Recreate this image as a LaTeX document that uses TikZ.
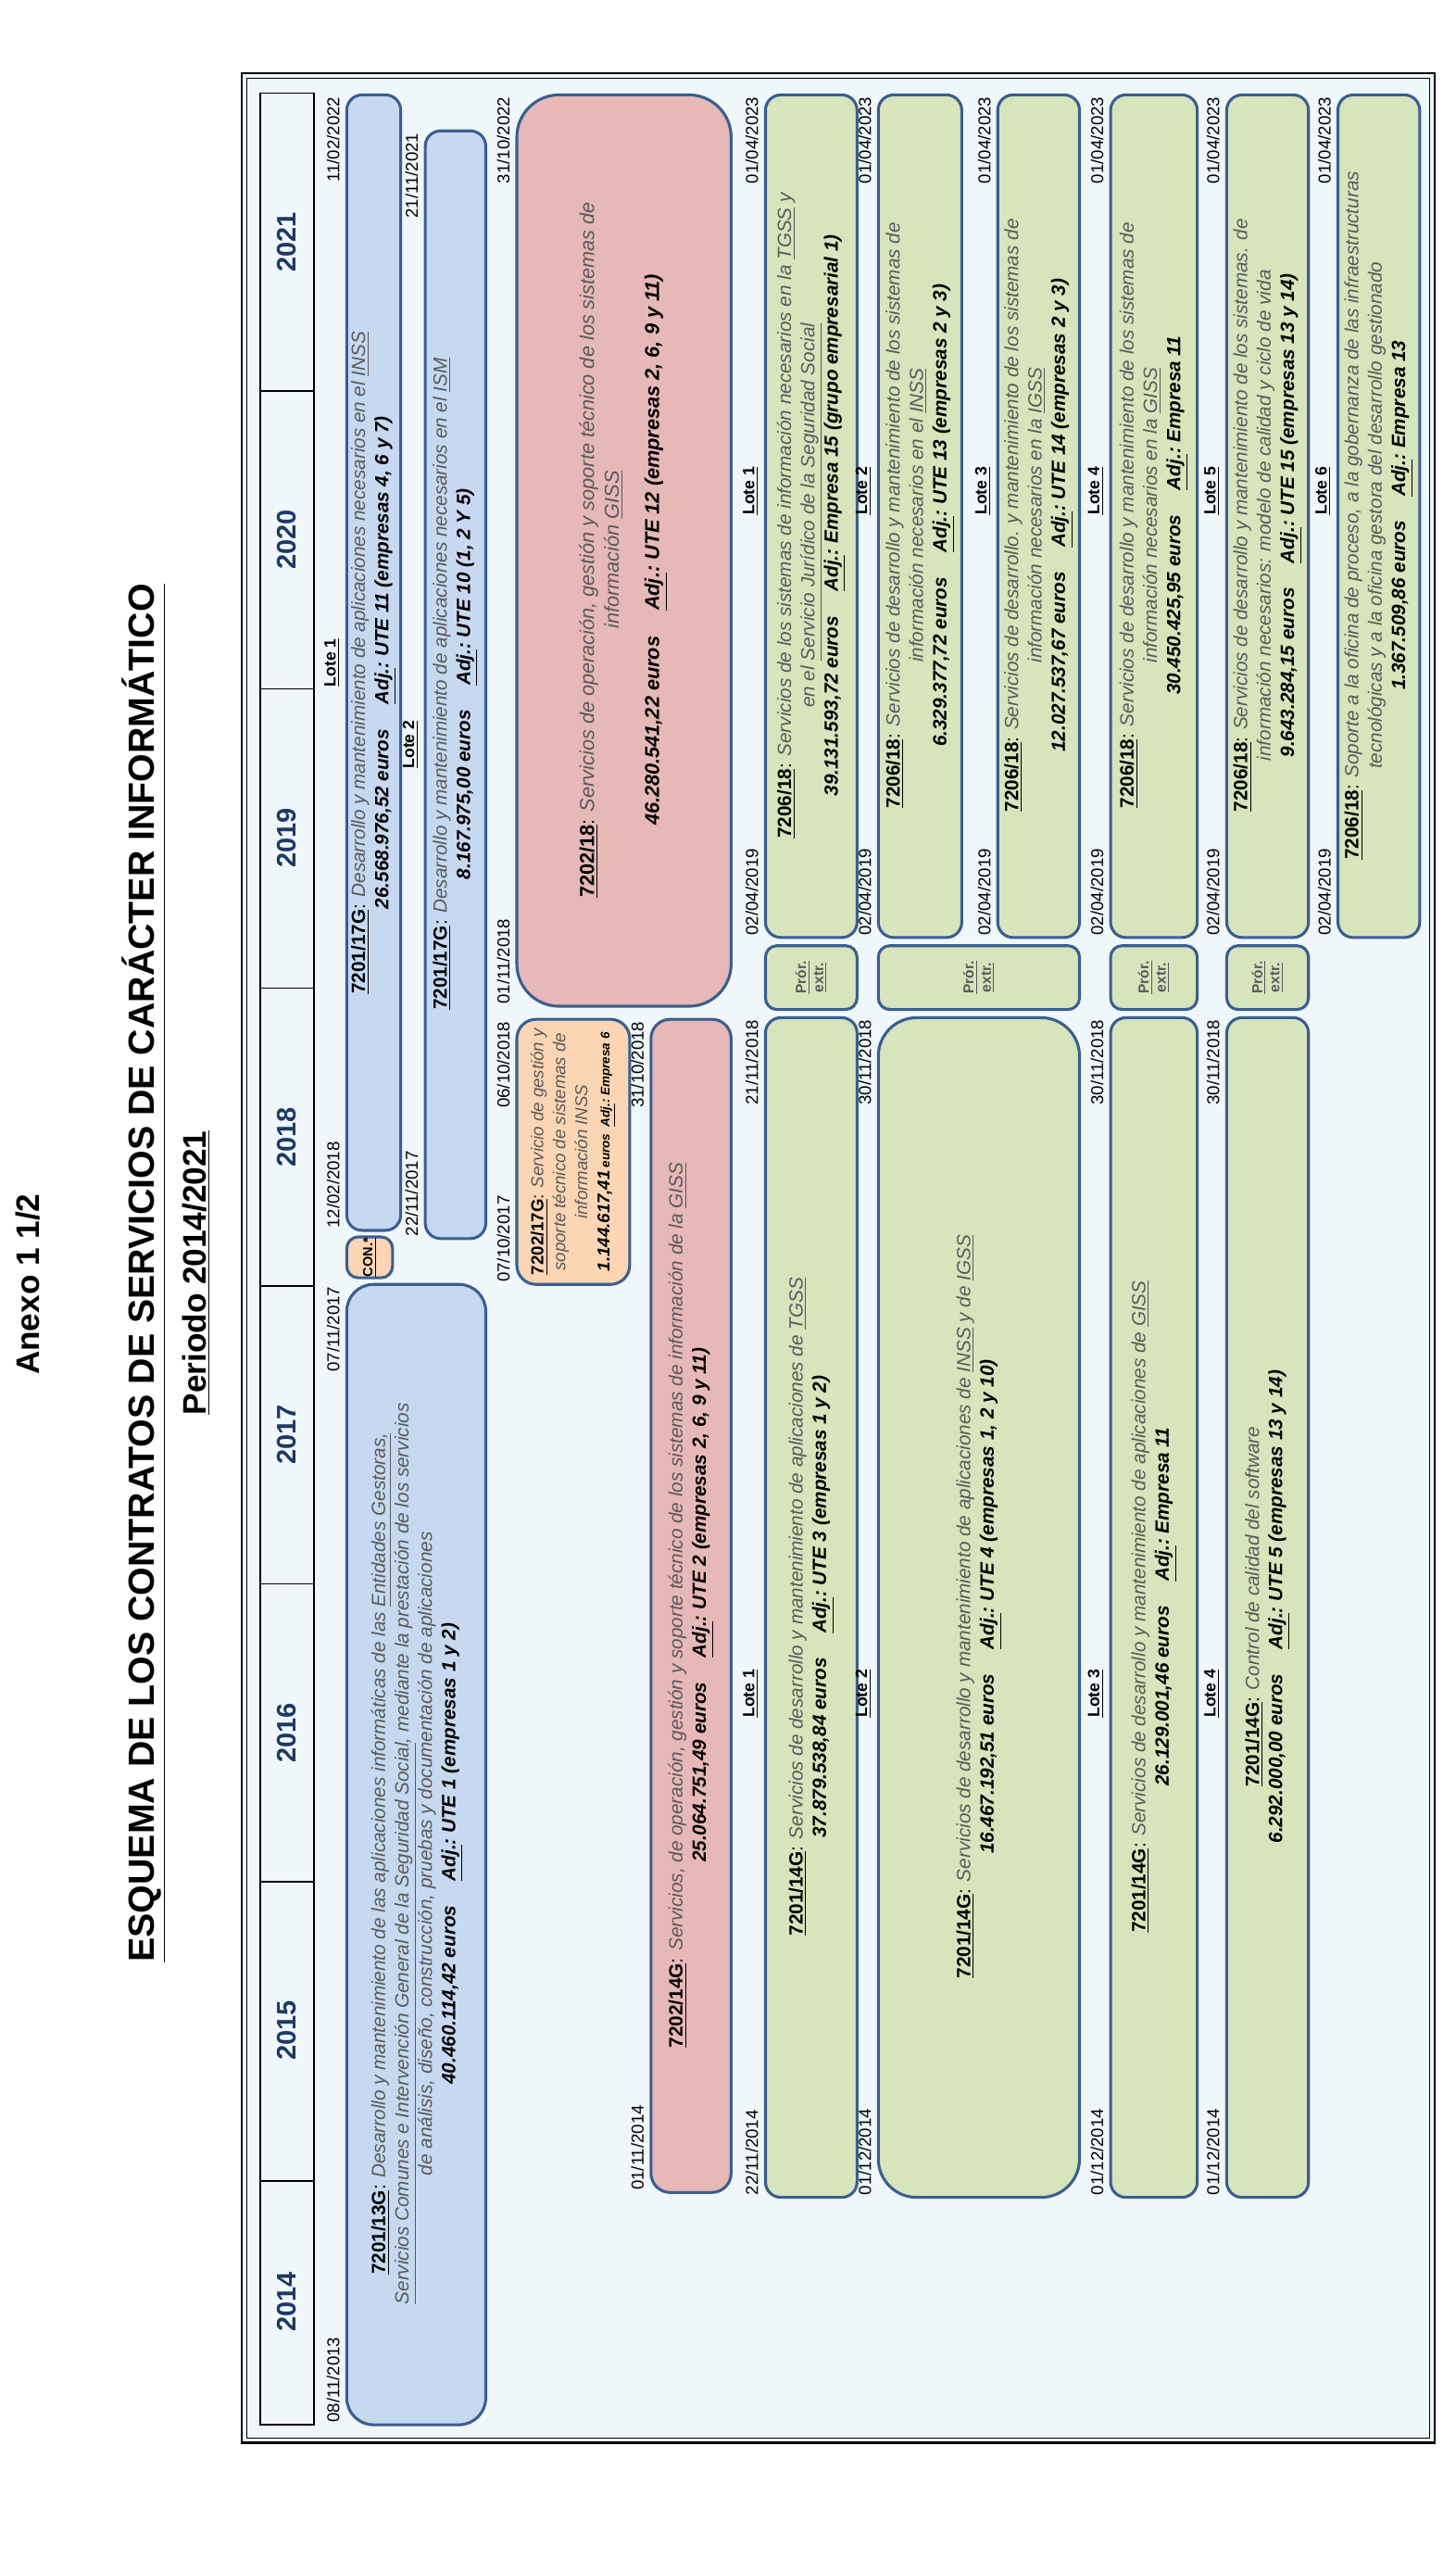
\documentclass[tikz,border=0pt]{standalone}
\usepackage{fontspec}
\setmainfont{Liberation Sans}
\definecolor{bordc}{HTML}{3B5E91}
\definecolor{bluef}{HTML}{C6D9F1}
\definecolor{redf}{HTML}{E6B8B7}
\definecolor{orf}{HTML}{FCD5B4}
\definecolor{grf}{HTML}{D7E4BC}
\definecolor{bgc}{HTML}{F0F7FA}
\definecolor{dgray}{HTML}{595959}
\definecolor{navy}{HTML}{1F3864}
\newcommand\dsc[1]{{\color{dgray}\itshape #1}}
\newcommand\cod[1]{\textbf{\underline{#1}}}
\newcommand\amt[1]{\textbf{\textit{#1}}}
\newcommand\adj{\textbf{\textit{\underline{Adj.}:}}}
\newcommand\ul[1]{\underline{#1}}
\tikzset{
  boxst/.style={draw=bordc, line width=1.5pt},
  txt/.style={rotate=90, align=center, inner sep=0pt, font=\fontsize{10}{12.2}\selectfont},
  dt/.style={rotate=90, inner sep=1pt, font=\fontsize{9}{10}\selectfont},
  lote/.style={rotate=90, inner sep=1pt, font=\fontsize{8.5}{10}\selectfont\bfseries},
  ttl/.style={rotate=90, font=\fontsize{17}{20}\selectfont\bfseries}
}
% fill, x1, y1, x2, y2, radius
\newcommand\bx[6]{\draw[boxst, fill=#1, rounded corners=#6] (#2,#3) rectangle (#4,#5);}
% name, x-left, y-bottom, y-top, start date, end date
\newcommand\dts[6]{\node[dt, anchor=south west] (#1s) at (#2-3,#3) {#5};
  \node[dt, anchor=south east] (#1e) at (#2-3,#4) {#6};}
\begin{document}
\begin{tikzpicture}[x=0.03cm, y=-0.03cm]
\useasboundingbox (0,0) rectangle (890,1572);
% titles
\node[ttl] (anexo) at (17,785) {Anexo 1 1/2};
\node[ttl, font=\fontsize{19}{22}\selectfont\bfseries] (tit) at (88,778) {\underline{ESQUEMA DE LOS CONTRATOS DE SERVICIOS DE CARÁCTER INFORMÁTICO}};
\node[ttl] (per) at (120,778) {\underline{Periodo 2014/2021}};
% frame
\draw[line width=1pt, fill=bgc] (148,45) rectangle (877,1493);
\draw[line width=0.6pt] (151,48) rectangle (874,1490);
% years
\draw[line width=0.8pt] (159,57) rectangle (192,1482);
\foreach \yy in {239,421,604,786,968,1150,1333} \draw[line width=0.8pt] (159,\yy) -- (192,\yy);
\foreach \lab/\yc in {2021/148,2020/330,2019/512,2018/695,2017/877,2016/1059,2015/1241,2014/1407}
  \node[rotate=90, font=\fontsize{14}{16}\selectfont\bfseries, text=navy] (y\lab) at (175.5,\yc) {\lab};
% ---- blue row
\bx{bluef}{212}{785}{297}{1482}{14pt}
\node[txt] (c13) at (255,1133) {\cod{7201/13G}: \dsc{Desarrollo y mantenimiento de las aplicaciones informáticas de las \ul{Entidades Gestoras,}}\\
\dsc{\ul{Servicios Comunes e Intervención General de la Seguridad Social}, mediante la prestación de los servicios}\\
\dsc{de análisis, diseño, construcción, pruebas y documentación de aplicaciones}\\
\amt{40.460.114,42 euros}\quad\ \adj\ \amt{UTE 1 (empresas 1 y 2)}};
\dts{c13d}{212}{1482}{785}{08/11/2013}{07/11/2017}
\bx{orf}{212}{756}{240}{781}{6pt}
\node[rotate=90, font=\fontsize{7}{8}\selectfont\bfseries] (con) at (226,768.5) {\underline{CON.*}};
\bx{bluef}{212}{58}{245}{752}{8pt}
\node[txt] (c17a) at (228.5,405) {\cod{7201/17G}: \dsc{Desarrollo y mantenimiento de aplicaciones necesarios en el \ul{INSS}}\\
\amt{26.568.976,52 euros}\quad\ \adj\ \amt{UTE 11 (empresas 4, 6 y 7)}};
\dts{c17ad}{212}{752}{58}{12/02/2018}{11/02/2022}
\node[lote, anchor=south] (l17a) at (209,405) {\underline{Lote 1}};
\bx{bluef}{260}{80}{297}{757}{8pt}
\node[txt] (c17b) at (278.5,418) {\cod{7201/17G}: \dsc{Desarrollo y mantenimiento de aplicaciones necesarios en el \ul{ISM}}\\
\amt{8.167.975,00 euros}\quad\ \adj\ \amt{UTE 10 (1, 2 Y 5)}};
\dts{c17bd}{260}{757}{80}{22/11/2017}{21/11/2021}
\node[lote, anchor=south] (l17b) at (257,455) {\underline{Lote 2}};
% ---- orange / red row
\bx{orf}{316}{623}{385}{785}{10pt}
\node[txt, font=\fontsize{9}{11.5}\selectfont] (o17) at (350.5,704) {\cod{7202/17G}: \dsc{Servicio de gestión y}\\
\dsc{soporte técnico de sistemas de}\\ \dsc{información INSS}\\
{\amt{1.144.617,41}\,{\fontsize{6.5}{8}\selectfont\amt{euros}\ \ \adj\ \amt{Empresa 6}}}};
\dts{o17d}{316}{785}{623}{07/10/2017}{06/10/2018}
\bx{redf}{316}{58}{447}{615}{22pt}
\node[txt, font=\fontsize{10.5}{13}\selectfont] (r18) at (381,336) {\cod{7202/18}: \dsc{Servicios de operación, gestión y soporte técnico de los sistemas de}\\
\dsc{información \ul{GISS}}\\[8pt]
\amt{46.280.541,22 euros}\quad\ \adj\ \amt{UTE 12 (empresas 2, 6, 9 y 11)}};
\dts{r18d}{316}{615}{58}{01/11/2018}{31/10/2022}
\bx{redf}{398}{623}{447}{1340}{10pt}
\node[txt] (r14) at (422.5,981) {\cod{7202/14G}: \dsc{Servicios, de operación, gestión y soporte técnico de los sistemas de información de la \ul{GISS}}\\
\amt{25.064.751,49 euros}\quad\ \adj\ \amt{UTE 2 (empresas 2, 6, 9 y 11)}};
\dts{r14d}{398}{1340}{623}{01/11/2014}{31/10/2018}
% ---- green 7201/14G lots
\bx{grf}{468}{622}{524}{1343}{8pt}
\node[txt] (g1) at (496,982) {\cod{7201/14G}: \dsc{Servicios de desarrollo y mantenimiento de aplicaciones de \ul{TGSS}}\\
\amt{37.879.538,84 euros}\quad\ \adj\ \amt{UTE 3 (empresas 1 y 2)}};
\dts{g1d}{468}{1343}{622}{22/11/2014}{21/11/2018}
\node[lote, anchor=south] (lg1) at (465,1035) {\underline{Lote 1}};
\bx{grf}{537}{622}{660}{1343}{20pt}
\node[txt] (g2) at (598.5,982) {\cod{7201/14G}: \dsc{Servicios de desarrollo y mantenimiento de aplicaciones de \ul{INSS} y de \ul{IGSS}}\\
\amt{16.467.192,51 euros}\quad\ \adj\ \amt{UTE 4 (empresas 1, 2 y 10)}};
\dts{g2d}{537}{1343}{622}{01/12/2014}{30/11/2018}
\node[lote, anchor=south] (lg2) at (534,1035) {\underline{Lote 2}};
\bx{grf}{679}{622}{732}{1343}{8pt}
\node[txt] (g3) at (705.5,982) {\cod{7201/14G}: \dsc{Servicios de desarrollo y mantenimiento de aplicaciones de \ul{GISS}}\\
\amt{26.129.001,46 euros}\quad\ \adj\ \amt{Empresa 11}};
\dts{g3d}{679}{1343}{622}{01/12/2014}{30/11/2018}
\node[lote, anchor=south] (lg3) at (676,1035) {\underline{Lote 3}};
\bx{grf}{750}{622}{800}{1343}{8pt}
\node[txt] (g4) at (775,982) {\cod{7201/14G}: \dsc{Control de calidad del software}\\
\amt{6.292.000,00 euros}\quad\ \adj\ \amt{UTE 5 (empresas 13 y 14)}};
\dts{g4d}{750}{1343}{622}{01/12/2014}{30/11/2018}
\node[lote, anchor=south] (lg4) at (747,1035) {\underline{Lote 4}};
% ---- prorroga boxes
\foreach \xa/\xb/\nm in {468/524/p1,537/660/p2,679/732/p3,750/800/p4}{
  \draw[boxst, fill=grf, rounded corners=6pt] (\xa,578) rectangle (\xb,617);
  \node[rotate=90, align=center, font=\fontsize{7.5}{9}\selectfont\bfseries, text=dgray] (\nm) at ({(\xa+\xb)/2},597.5) {\underline{Prór.}\\ \underline{extr.}};
}
% ---- 7206/18 lots
\bx{grf}{468}{58}{524}{573}{8pt}
\node[txt] (h1) at (496,315) {\cod{7206/18}: \dsc{Servicios de los sistemas de información necesarios en la \ul{TGSS} y}\\
\dsc{en el \ul{Servicio Jurídico de la Seguridad Social}}\\
\amt{39.131.593,72 euros}\quad\ \adj\ \amt{Empresa 15 (grupo empresarial 1)}};
\dts{h1d}{468}{573}{58}{02/04/2019}{01/04/2023}
\node[lote, anchor=south] (lh1) at (465,300) {\underline{Lote 1}};
\bx{grf}{537}{58}{588}{573}{8pt}
\node[txt] (h2) at (562.5,315) {\cod{7206/18}: \dsc{Servicios de desarrollo y mantenimiento de los sistemas de}\\
\dsc{información necesarios en el \ul{INSS}}\\
\amt{6.329.377,72 euros}\quad\ \adj\ \amt{UTE 13 (empresas 2 y 3)}};
\dts{h2d}{537}{573}{58}{02/04/2019}{01/04/2023}
\node[lote, anchor=south] (lh2) at (534,300) {\underline{Lote 2}};
\bx{grf}{610}{58}{660}{573}{8pt}
\node[txt] (h3) at (635,315) {\cod{7206/18}: \dsc{Servicios de desarrollo. y mantenimiento de los sistemas de}\\
\dsc{información necesarios en la \ul{IGSS}}\\
\amt{12.027.537,67 euros}\quad\ \adj\ \amt{UTE 14 (empresas 2 y 3)}};
\dts{h3d}{610}{573}{58}{02/04/2019}{01/04/2023}
\node[lote, anchor=south] (lh3) at (607,300) {\underline{Lote 3}};
\bx{grf}{679}{58}{732}{573}{8pt}
\node[txt] (h4) at (705.5,315) {\cod{7206/18}: \dsc{Servicios de desarrollo y mantenimiento de los sistemas de}\\
\dsc{información necesarios en la \ul{GISS}}\\
\amt{30.450.425,95 euros}\quad\ \adj\ \amt{Empresa 11}};
\dts{h4d}{679}{573}{58}{02/04/2019}{01/04/2023}
\node[lote, anchor=south] (lh4) at (676,300) {\underline{Lote 4}};
\bx{grf}{750}{58}{800}{573}{8pt}
\node[txt] (h5) at (775,315) {\cod{7206/18}: \dsc{Servicios de desarrollo y mantenimiento de los sistemas. de}\\
\dsc{información necesarios: modelo de calidad y ciclo de vida}\\
\amt{9.643.284,15 euros}\quad\ \adj\ \amt{UTE 15 (empresas 13 y 14)}};
\dts{h5d}{750}{573}{58}{02/04/2019}{01/04/2023}
\node[lote, anchor=south] (lh5) at (747,300) {\underline{Lote 5}};
\bx{grf}{818}{58}{868}{573}{8pt}
\node[txt] (h6) at (843,315) {\cod{7206/18}: \dsc{Soporte a la oficina de proceso, a la gobernanza de las infraestructuras}\\
\dsc{tecnológicas y a la oficina gestora del desarrollo gestionado}\\
\amt{1.367.509,86 euros}\quad\ \adj\ \amt{Empresa 13}};
\dts{h6d}{818}{573}{58}{02/04/2019}{01/04/2023}
\node[lote, anchor=south] (lh6) at (815,300) {\underline{Lote 6}};
\end{tikzpicture}
\end{document}
